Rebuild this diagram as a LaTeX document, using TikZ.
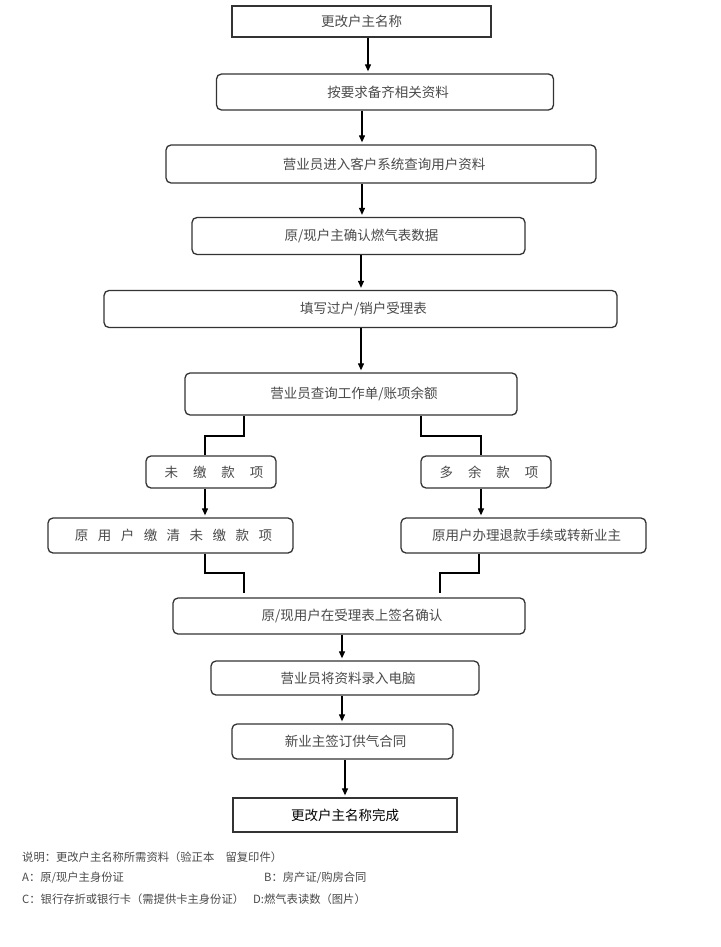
\documentclass[tikz,border=0pt]{standalone}
\usepackage{fontspec}
\setmainfont{Noto Sans CJK SC}
\usetikzlibrary{arrows.meta}
\definecolor{txt}{HTML}{4A4A4A}
\definecolor{edge}{HTML}{333333}
\tikzset{
  box/.style={draw=edge, line width=1.3pt, rounded corners=5pt, inner sep=0pt,
    font=\fontsize{13.5}{15}\selectfont, text=txt},
  sqbox/.style={box, rounded corners=0pt},
  arr/.style={draw=black, line width=1.2pt, -{Triangle[length=7pt,width=6pt]}, shorten >=2pt},
  conn/.style={draw=black, line width=1.2pt},
  note/.style={anchor=west, inner sep=0pt, font=\fontsize{11.3}{13}\selectfont, text=txt}
}
\newcommand{\bx}[1]{\hspace*{6pt}#1}
\begin{document}
\begin{tikzpicture}[x=1pt, y=-1pt]
\useasboundingbox (0,0) rectangle (720,947);
\fill[white] (0,0) rectangle (720,947);

\node[sqbox, minimum width=259pt, minimum height=31pt] (b1) at (361.5,21.5) {更改户主名称};
\node[box, minimum width=337pt, minimum height=36pt] (b2) at (385,92) {\bx{按要求备齐相关资料}};
\node[box, minimum width=430pt, minimum height=38pt] (b3) at (381,164) {\bx{营业员进入客户系统查询用户资料}};
\node[box, minimum width=333pt, minimum height=37pt] (b4) at (358.5,236) {\bx{原/现户主确认燃气表数据}};
\node[box, minimum width=513pt, minimum height=37pt] (b5) at (360.5,309) {\bx{填写过户/销户受理表}};
\node[box, minimum width=332pt, minimum height=42pt] (b6) at (351,394) {\bx{营业员查询工作单/账项余额}};

\node[box, minimum width=130pt, minimum height=32pt] (l1) at (211,472) {\bx{未\hspace{1.1em}缴\hspace{1.1em}款\hspace{1.1em}项}};
\node[box, minimum width=130pt, minimum height=32pt] (r1) at (486,472) {\bx{多\hspace{1.1em}余\hspace{1.1em}款\hspace{1.1em}项}};
\node[box, minimum width=245pt, minimum height=35pt] (l2) at (170.5,535.5) {\bx{原\hspace{0.7em}用\hspace{0.7em}户\hspace{0.7em}缴\hspace{0.7em}清\hspace{0.7em}未\hspace{0.7em}缴\hspace{0.7em}款\hspace{0.7em}项}};
\node[box, minimum width=245pt, minimum height=35pt] (r2) at (523.5,535.5) {\bx{原用户办理退款手续或转新业主}};

\node[box, minimum width=352pt, minimum height=36pt] (b7) at (349,616) {\bx{原/现用户在受理表上签名确认}};
\node[box, minimum width=268pt, minimum height=34pt] (b8) at (345,678) {\bx{营业员将资料录入电脑}};
\node[box, minimum width=221pt, minimum height=35pt] (b9) at (342.5,741.5) {\bx{新业主签订供气合同}};
\node[sqbox, minimum width=224pt, minimum height=34pt, text=black] (b10) at (345,815) {更改户主名称完成};

% main arrows
\draw[arr] (b1.south -| 368,0) -- (b2.north -| 368,0);
\draw[arr] (b2.south -| 362,0) -- (b3.north -| 362,0);
\draw[arr] (b3.south -| 362,0) -- (b4.north -| 362,0);
\draw[arr] (b4.south -| 361,0) -- (b5.north -| 361,0);
\draw[arr] (b5.south -| 361,0) -- (b6.north -| 361,0);

% branch lines
\coordinate (s1) at (b6.south -| 244,0);
\coordinate (s2) at (b6.south -| 421,0);
\draw[conn] (s1) -- (244,436) -- (205,436) -- (l1.north -| 205,0);
\draw[conn] (s2) -- (421,436) -- (481,436) -- (r1.north -| 481,0);

\draw[arr] (l1.south -| 205,0) -- (l2.north -| 205,0);
\draw[arr] (r1.south -| 481,0) -- (r2.north -| 481,0);

% merge lines
\coordinate (m1) at (244,593);
\coordinate (m2) at (440,593);
\draw[conn] (l2.south -| 205,0) -- (205,573) -- (244,573) -- (m1);
\draw[conn] (r2.south -| 479,0) -- (479,573) -- (440,573) -- (m2);

\draw[arr] (b7.south -| 342,0) -- (b8.north -| 342,0);
\draw[arr] (b8.south -| 342,0) -- (b9.north -| 342,0);
\draw[arr] (b9.south -| 345,0) -- (b10.north -| 345,0);

% notes
\node[note] (n1) at (22,857) {说明：更改户主名称所需资料（验正本\hspace{1em}留复印件）};
\node[note] (n2) at (22,878) {A：原/现户主身份证};
\node[note] (n3) at (264,878) {B：房产证/购房合同};
\node[note] (n4) at (22,899) {C：银行存折或银行卡（需提供卡主身份证）};
\node[note] (n5) at (253,899) {D:燃气表读数（图片）};
\end{tikzpicture}
\end{document}
